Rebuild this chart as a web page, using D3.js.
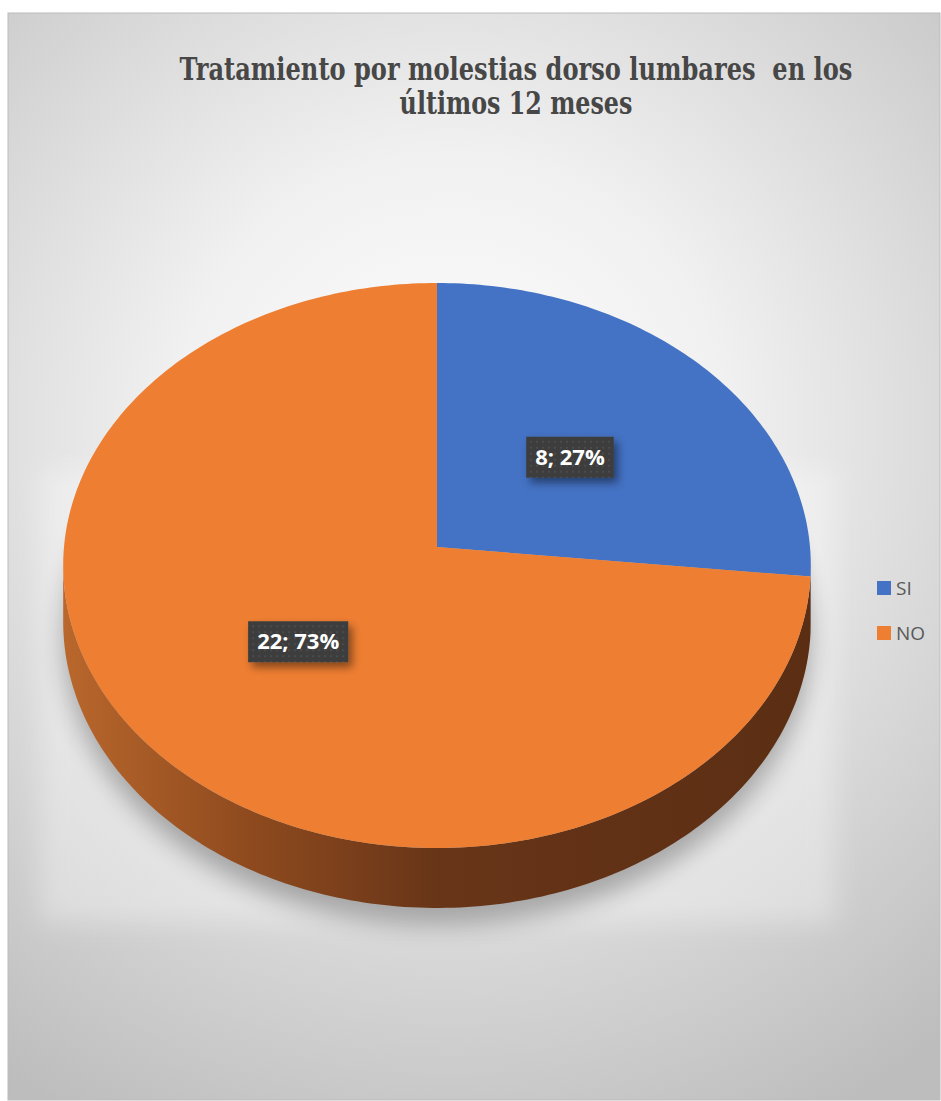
<!DOCTYPE html>
<html>
<head>
<meta charset="utf-8">
<script src="https://cdn.jsdelivr.net/npm/d3@7"></script>
<style>
  html, body { margin: 0; padding: 0; background: #fff; }
  svg { display: block; }
  .title { font-family: "DejaVu Serif", "Liberation Serif", "Times New Roman", serif; white-space: pre; }
</style>
</head>
<body>
<svg id="chart" width="941" height="1101"></svg>
<script>
// DATA
const categories = ["SI", "NO"];
const counts = [8, 22];
const percents = ["27%", "73%"];
const titleLines = ["Tratamiento por molestias dorso lumbares  en los", "últimos 12 meses"];

const colors = ["#4472C4", "#EE7E32"];

// CANVAS SETUP
const svg = d3.select("#chart");
const frame = { x: 8, y: 13, w: 932, h: 1087 };

// pie geometry (perspective tilted disc)
const cx = 437, cy = 547; // apex of the slices
const rx = 373, ry = 281.3, persp = 0.0655, depth = 56;

const defs = svg.append("defs");

const bg = defs.append("radialGradient").attr("id", "bgGrad")
  .attr("gradientUnits", "userSpaceOnUse")
  .attr("cx", 450).attr("cy", 430).attr("r", 780);
bg.append("stop").attr("offset", 0).attr("stop-color", "#fdfdfd");
bg.append("stop").attr("offset", 0.35).attr("stop-color", "#f1f1f1");
bg.append("stop").attr("offset", 1).attr("stop-color", "#bdbdbd");

const side = defs.append("linearGradient").attr("id", "sideGrad")
  .attr("gradientUnits", "userSpaceOnUse")
  .attr("x1", cx - rx).attr("x2", cx + rx).attr("y1", 0).attr("y2", 0);
side.append("stop").attr("offset", 0).attr("stop-color", "#b9672c");
side.append("stop").attr("offset", 0.25).attr("stop-color", "#8e4a1e");
side.append("stop").attr("offset", 0.5).attr("stop-color", "#683518");
side.append("stop").attr("offset", 1).attr("stop-color", "#5b2e13");

defs.append("filter").attr("id", "blurBig")
  .attr("x", "-20%").attr("y", "-20%").attr("width", "140%").attr("height", "140%")
  .append("feGaussianBlur").attr("stdDeviation", 12);
defs.append("filter").attr("id", "blurSoft")
  .attr("x", "-20%").attr("y", "-20%").attr("width", "140%").attr("height", "140%")
  .append("feGaussianBlur").attr("stdDeviation", 12);

const lblShadow = defs.append("filter").attr("id", "lblShadow")
  .attr("x", "-30%").attr("y", "-40%").attr("width", "170%").attr("height", "200%");
lblShadow.append("feDropShadow").attr("dx", 4).attr("dy", 5)
  .attr("stdDeviation", 4).attr("flood-color", "#000").attr("flood-opacity", 0.45);

const dots = defs.append("pattern").attr("id", "dots")
  .attr("patternUnits", "userSpaceOnUse").attr("width", 6).attr("height", 6);
dots.append("rect").attr("width", 6).attr("height", 6).attr("fill", "#3d3d3d");
dots.append("circle").attr("cx", 3).attr("cy", 3).attr("r", 1.1).attr("fill", "#4e4e4e");

// background + frame
svg.append("rect").attr("x", frame.x).attr("y", frame.y)
  .attr("width", frame.w).attr("height", frame.h)
  .attr("fill", "url(#bgGrad)").attr("stroke", "#bcbcbc").attr("stroke-width", 1);

// projection of a point on the unit disc (angle clockwise from top, radius fraction)
function project(a, r, drop = 0) {
  const u = r * Math.sin(a), v = r * Math.cos(a);
  const s = 1 / (1 + persp * v);
  return [cx + rx * u * s, cy - ry * v * s + drop * s];
}

// light backdrop and soft shadow under the disc
svg.append("rect").attr("x", 40).attr("y", 470).attr("width", 795).attr("height", 452)
  .attr("fill", "#ffffff").attr("opacity", 0.3).attr("filter", "url(#blurSoft)");

const ring = d3.range(0, 361, 2).map((deg) => project((deg * Math.PI) / 180, 1, depth + 16));
svg.append("path")
  .attr("d", d3.line().curve(d3.curveLinearClosed)(ring))
  .attr("fill", "#000").attr("opacity", 0.28)
  .attr("filter", "url(#blurBig)");

// PIE
const pie = d3.pie().sort(null).value((d) => d)(counts);
const visA0 = Math.PI / 2 + 0.0655, visA1 = (3 * Math.PI) / 2 - 0.0655;

function arcPoints(a0, a1, r, drop) {
  const n = Math.max(2, Math.ceil(((a1 - a0) * 180) / Math.PI));
  return d3.range(n + 1).map((i) => project(a0 + ((a1 - a0) * i) / n, r, drop));
}

const gSide = svg.append("g");
pie.forEach((p, i) => {
  const a0 = Math.max(p.startAngle, visA0), a1 = Math.min(p.endAngle, visA1);
  if (a1 <= a0) return;
  const pts = arcPoints(a0, a1, 1, 0).concat(arcPoints(a0, a1, 1, depth).reverse());
  gSide.append("path")
    .attr("d", d3.line().curve(d3.curveLinearClosed)(pts))
    .attr("fill", i === 0 ? "#2c4a82" : "url(#sideGrad)");
});

const gTop = svg.append("g");
pie.forEach((p, i) => {
  const pts = [project(0, 0)].concat(arcPoints(p.startAngle, p.endAngle, 1, 0));
  gTop.append("path")
    .attr("d", d3.line().curve(d3.curveLinearClosed)(pts))
    .attr("fill", colors[i]);
});

// DATA LABELS
const gLbl = svg.append("g");
pie.forEach((p, i) => {
  const [lx, ly] = project((p.startAngle + p.endAngle) / 2, 0.49);
  const txt = `${counts[i]}; ${percents[i]}`;
  const g = gLbl.append("g").attr("transform", `translate(${lx},${ly})`);
  const t = g.append("text")
    .attr("text-anchor", "middle").attr("dy", "0.36em")
    .attr("font-family", "'Open Sans', sans-serif").attr("font-weight", 700)
    .attr("font-size", 22).attr("fill", "#ffffff").text(txt);
  const bw = t.node().getComputedTextLength() + 18;
  g.insert("rect", "text")
    .attr("x", -bw / 2).attr("y", -20).attr("width", bw).attr("height", 41)
    .attr("fill", "url(#dots)").attr("filter", "url(#lblShadow)");
});

// TITLE (condensed serif: squeeze horizontally to the reference width)
const titleWidths = [673, 233];
titleLines.forEach((line, i) => {
  const t = svg.append("text")
    .attr("class", "title")
    .attr("text-anchor", "middle")
    .attr("x", 0).attr("y", 80 + i * 34)
    .attr("font-weight", 700).attr("font-size", 31).attr("fill", "#474747")
    .text(line);
  const w = t.node().getComputedTextLength();
  t.attr("transform", `translate(516,0) scale(${titleWidths[i] / w},1)`);
});

// LEGEND
const legendY = d3.scalePoint().domain(categories).range([588, 633]);
const legend = svg.append("g");
categories.forEach((c, i) => {
  legend.append("rect").attr("x", 877).attr("y", legendY(c) - 7)
    .attr("width", 14).attr("height", 14).attr("fill", colors[i]);
  legend.append("text").attr("x", 896).attr("y", legendY(c)).attr("dy", "0.36em")
    .attr("font-family", "'Open Sans', sans-serif").attr("font-size", 19)
    .attr("fill", "#595959").text(c);
});
</script>
</body>
</html>
